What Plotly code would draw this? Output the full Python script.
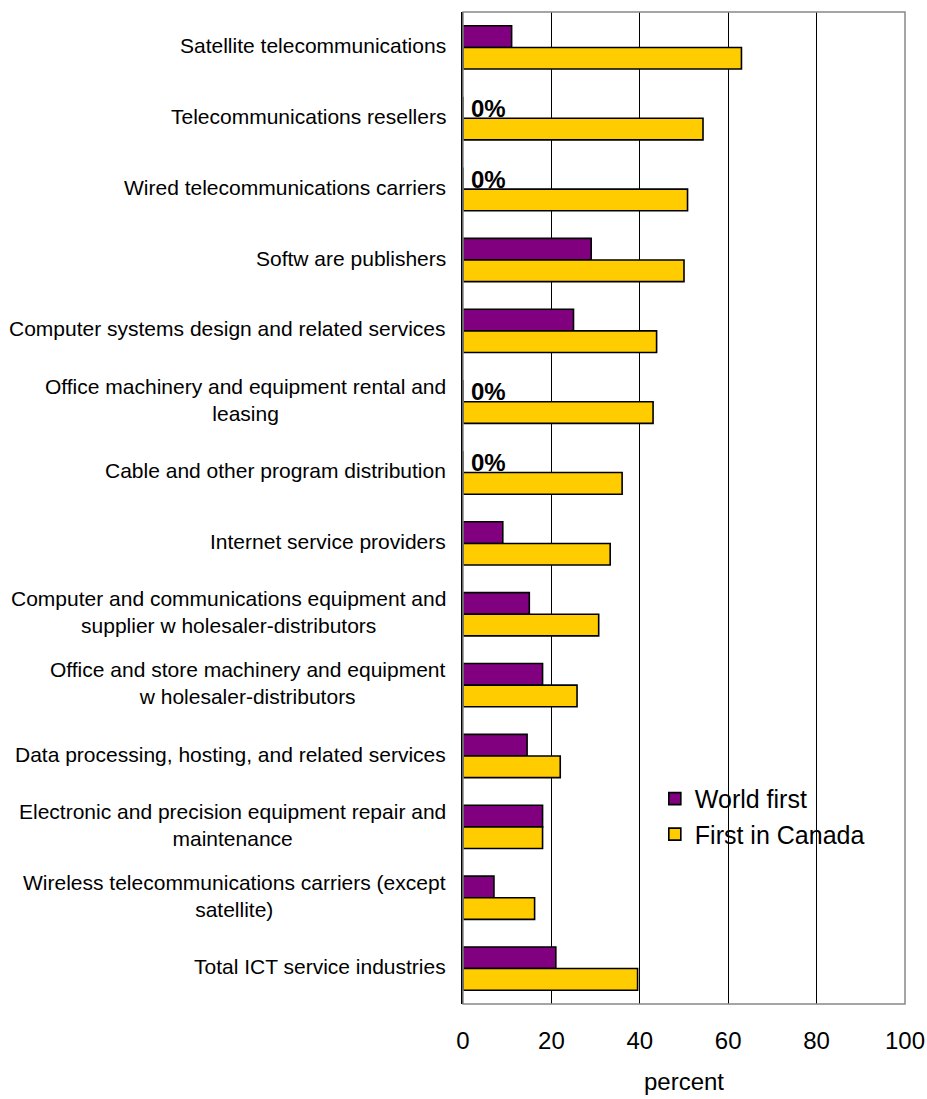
import plotly.graph_objects as go

categories = [
    "Satellite telecommunications",
    "Telecommunications resellers",
    "Wired telecommunications carriers",
    "Softw are publishers",
    "Computer systems design and related services",
    "Office machinery and equipment rental and<br>leasing",
    "Cable and other program distribution",
    "Internet service providers",
    "Computer and communications equipment and<br>supplier w holesaler-distributors",
    "Office and store machinery and equipment<br>w holesaler-distributors",
    "Data processing, hosting, and related services",
    "Electronic and precision equipment repair and<br>maintenance",
    "Wireless telecommunications carriers (except<br>satellite)",
    "Total ICT service industries",
]
world_first = [11, 0, 0, 29, 25, 0, 0, 9, 15, 18, 14.5, 18, 7, 21]
first_in_canada = [63, 54.3, 50.8, 50, 43.8, 43, 36, 33.3, 30.7, 25.8, 22, 18, 16.2, 39.5]
x_ticks = [0, 20, 40, 60, 80, 100]

FONT = "Liberation Sans, Arial, sans-serif"
ids = list(range(len(categories)))

fig = go.Figure()
fig.add_trace(go.Bar(
    y=ids, x=world_first, orientation="h", name="World first",
    marker=dict(color="#800080", line=dict(color="#000000", width=1.6)),
    legendgroup="wf",
))
fig.add_trace(go.Bar(
    y=ids, x=first_in_canada, orientation="h", name="First in Canada",
    marker=dict(color="#FFCC00", line=dict(color="#000000", width=1.6)),
    legendgroup="fic",
))

annotations = []
# category labels, centred multi-line text to the left of the axis
for i, cat in enumerate(categories):
    annotations.append(dict(
        x=0, xref="paper", y=i, yref="y", text=cat, showarrow=False,
        xanchor="right", yanchor="middle", align="center", xshift=-15, yshift=2,
        font=dict(family=FONT, size=21, color="#000000"),
    ))
# value labels for zero-valued world-first bars
for i, v in enumerate(world_first):
    if v == 0:
        annotations.append(dict(
            x=v, xref="x", y=i, yref="y", text=f"<b>{v:.0f}%</b>", showarrow=False,
            xanchor="left", yanchor="middle", xshift=6, yshift=10,
            font=dict(family=FONT, size=24, color="#000000"),
        ))

fig.update_layout(
    width=927, height=1099,
    margin=dict(l=463, r=22, t=12, b=95, autoexpand=False),
    paper_bgcolor="white", plot_bgcolor="white",
    barmode="group", bargap=0.39, bargroupgap=0,
    font=dict(family=FONT, color="#000000"),
    showlegend=True,
    legend=dict(
        x=0.434, y=0.23, xanchor="left", yanchor="top",
        font=dict(family=FONT, size=25, color="#000000"),
        bgcolor="rgba(0,0,0,0)", traceorder="normal", tracegroupgap=11,
    ),
    annotations=annotations,
    shapes=[dict(type="rect", xref="paper", yref="paper", x0=0, y0=0, x1=1, y1=1,
                 line=dict(color="#888888", width=1.5), layer="above")],
)
fig.update_xaxes(
    range=[0, 100], tickvals=x_ticks, ticktext=[str(t) for t in x_ticks],
    showgrid=True, gridcolor="#000000", gridwidth=1, zeroline=False,
    ticks="", ticklabelstandoff=20, automargin=False,
    tickfont=dict(family=FONT, size=24, color="#000000"),
    title=dict(text="percent", font=dict(family=FONT, size=24, color="#000000"), standoff=20),
)
fig.update_yaxes(
    range=[len(categories) - 0.5, -0.5], tickvals=ids, showticklabels=False,
    showgrid=False, zeroline=False, ticks="", automargin=False,
    showline=True, linecolor="#000000", linewidth=1.5,
)

fig.write_html("out.html")
